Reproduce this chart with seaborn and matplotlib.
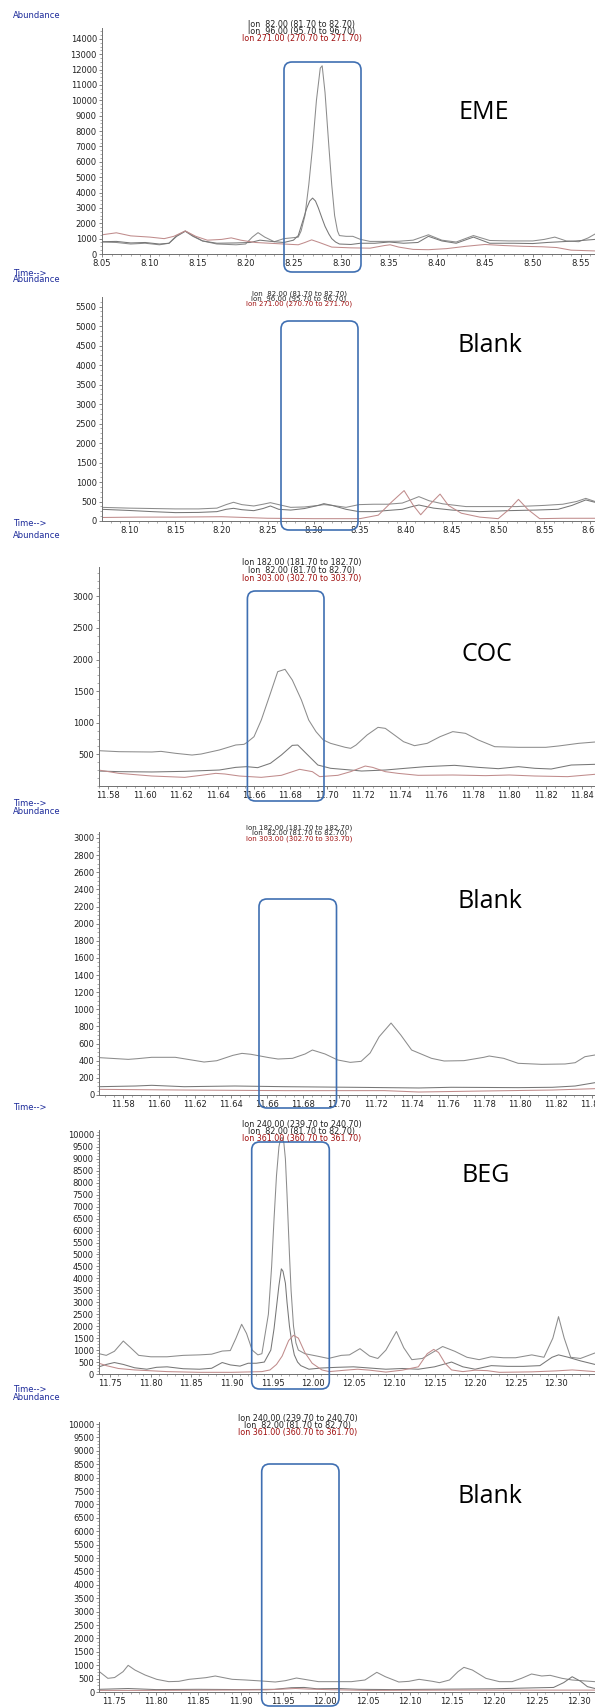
import matplotlib
matplotlib.use("Agg")
import matplotlib.pyplot as plt
import seaborn as sns
from matplotlib.patches import FancyBboxPatch
from matplotlib.ticker import MultipleLocator, AutoMinorLocator

sns.set_theme(style="white")
plt.rcParams['font.family'] = ['DejaVu Sans']

W, H = 595, 1707

# ---------------- EME ----------------
eme_t82 = [8.050, 8.065, 8.080, 8.095, 8.110, 8.120, 8.128, 8.137, 8.145, 8.155, 8.170, 8.190,
           8.200, 8.207, 8.213, 8.220, 8.230, 8.240, 8.248, 8.255, 8.258, 8.262, 8.266, 8.270,
           8.274, 8.278, 8.280, 8.283, 8.287, 8.290, 8.293, 8.296, 8.298, 8.305, 8.312, 8.320,
           8.330, 8.345, 8.360, 8.375, 8.391, 8.405, 8.420, 8.438, 8.455, 8.475, 8.500, 8.512,
           8.523, 8.535, 8.548, 8.558, 8.565]
eme_y82 = [780, 750, 650, 700, 600, 700, 1200, 1500, 1200, 850, 650, 600,
           650, 1100, 1390, 1100, 800, 1000, 1050, 1100, 1500, 2500, 4500, 7000,
           10000, 12100, 12250, 10500, 7000, 4500, 2500, 1500, 1200, 1150, 1150, 950,
           820, 820, 830, 900, 1250, 900, 780, 1200, 880, 850, 850, 950,
           1100, 850, 800, 1050, 1300]
eme_t96 = [8.050, 8.065, 8.080, 8.095, 8.110, 8.120, 8.128, 8.137, 8.145, 8.155, 8.170, 8.190,
           8.205, 8.215, 8.230, 8.240, 8.250, 8.255, 8.258, 8.261, 8.264, 8.267, 8.270, 8.273,
           8.276, 8.280, 8.283, 8.287, 8.290, 8.294, 8.298, 8.310, 8.320, 8.335, 8.350, 8.365,
           8.380, 8.391, 8.405, 8.420, 8.438, 8.455, 8.480, 8.500, 8.515, 8.530, 8.545, 8.565]
eme_y96 = [800, 820, 720, 750, 650, 700, 1150, 1480, 1150, 850, 700, 720,
           750, 900, 800, 750, 900, 1200, 1800, 2400, 3000, 3450, 3640, 3450,
           3000, 2300, 1800, 1300, 1000, 780, 650, 620, 700, 700, 780, 700,
           750, 1150, 850, 700, 1100, 700, 700, 680, 750, 800, 850, 950]
eme_t271 = [8.050, 8.065, 8.080, 8.100, 8.115, 8.125, 8.137, 8.148, 8.160, 8.175, 8.185, 8.195,
            8.210, 8.225, 8.240, 8.255, 8.262, 8.269, 8.277, 8.290, 8.310, 8.330, 8.345, 8.351,
            8.360, 8.375, 8.391, 8.410, 8.430, 8.450, 8.470, 8.490, 8.510, 8.525, 8.540, 8.565]
eme_y271 = [1250, 1380, 1180, 1100, 1000, 1150, 1500, 1150, 900, 950, 1050, 900,
            750, 700, 650, 600, 750, 920, 750, 450, 400, 380, 550, 600,
            450, 300, 280, 350, 500, 620, 550, 500, 470, 420, 250, 200]

# ---------------- EME blank ----------------
bl1_t82 = [8.070, 8.100, 8.125, 8.150, 8.175, 8.195, 8.205, 8.213, 8.222, 8.235, 8.245, 8.253,
           8.262, 8.275, 8.290, 8.305, 8.311, 8.320, 8.335, 8.349, 8.365, 8.380, 8.396, 8.405,
           8.414, 8.425, 8.440, 8.465, 8.490, 8.520, 8.550, 8.570, 8.585, 8.595, 8.605]
bl1_y82 = [350, 330, 320, 310, 310, 330, 420, 480, 420, 385, 430, 470,
           420, 350, 360, 400, 420, 400, 350, 420, 430, 430, 460, 540,
           625, 520, 440, 370, 370, 370, 400, 430, 500, 580, 500]
bl1_t96 = [8.070, 8.100, 8.125, 8.150, 8.175, 8.195, 8.205, 8.213, 8.222, 8.235, 8.245, 8.253,
           8.262, 8.275, 8.290, 8.305, 8.311, 8.320, 8.335, 8.349, 8.365, 8.380, 8.396, 8.405,
           8.414, 8.430, 8.450, 8.480, 8.510, 8.540, 8.565, 8.580, 8.595, 8.605]
bl1_y96 = [300, 270, 240, 215, 220, 240, 300, 325, 290, 265, 320, 385,
           300, 280, 320, 400, 445, 400, 300, 240, 240, 270, 300, 360,
           410, 330, 280, 240, 265, 280, 300, 400, 540, 480]
bl1_t271 = [8.070, 8.110, 8.150, 8.200, 8.250, 8.300, 8.350, 8.370, 8.385, 8.398, 8.408, 8.416,
            8.427, 8.437, 8.446, 8.460, 8.480, 8.500, 8.512, 8.522, 8.532, 8.545, 8.570, 8.605]
bl1_y271 = [90, 100, 100, 110, 70, 60, 60, 150, 500, 780, 400, 160,
            450, 690, 400, 200, 100, 60, 300, 555, 300, 60, 70, 70]

# ---------------- COC ----------------
coc_t182 = [11.5747, 11.586, 11.604, 11.609, 11.617, 11.626, 11.631, 11.641, 11.650, 11.6545,
            11.656, 11.660, 11.664, 11.669, 11.673, 11.677, 11.681, 11.686, 11.690, 11.694,
            11.698, 11.702, 11.710, 11.713, 11.716, 11.722, 11.728, 11.732, 11.737, 11.742,
            11.748, 11.755, 11.762, 11.769, 11.776, 11.783, 11.792, 11.805, 11.820, 11.827,
            11.838, 11.847]
coc_y182 = [559, 543, 538, 548, 517, 490, 506, 570, 649, 659,
            686, 780, 1044, 1466, 1809, 1846, 1677, 1361, 1044, 860,
            728, 675, 612, 596, 649, 807, 928, 912, 807, 701,
            638, 675, 780, 860, 833, 728, 622, 612, 612, 633,
            675, 696]
coc_t82 = [11.5747, 11.586, 11.604, 11.622, 11.641, 11.650, 11.656, 11.662, 11.669, 11.675,
           11.681, 11.684, 11.688, 11.695, 11.702, 11.713, 11.719, 11.732, 11.743, 11.754,
           11.770, 11.783, 11.794, 11.805, 11.814, 11.823, 11.834, 11.847]
coc_y82 = [237, 227, 222, 232, 253, 295, 306, 290, 359, 490,
           643, 648, 533, 332, 280, 253, 237, 253, 280, 306,
           327, 295, 274, 306, 280, 269, 332, 343]
coc_t303 = [11.5747, 11.586, 11.604, 11.622, 11.631, 11.639, 11.644, 11.652, 11.664, 11.675,
            11.685, 11.692, 11.696, 11.706, 11.713, 11.721, 11.725, 11.732, 11.739, 11.750,
            11.769, 11.787, 11.800, 11.814, 11.832, 11.847]
coc_y303 = [253, 200, 158, 137, 169, 200, 190, 158, 137, 169,
            264, 227, 148, 169, 227, 316, 295, 227, 200, 169,
            174, 164, 174, 158, 148, 185]

# ---------------- COC blank ----------------
bl2_t182 = [11.567, 11.583, 11.588, 11.596, 11.609, 11.616, 11.625, 11.632, 11.641, 11.646,
            11.651, 11.661, 11.666, 11.674, 11.681, 11.685, 11.692, 11.699, 11.706, 11.712,
            11.717, 11.722, 11.7286, 11.734, 11.740, 11.751, 11.758, 11.769, 11.780, 11.783,
            11.791, 11.799, 11.812, 11.825, 11.8306, 11.836, 11.8416]
bl2_y182 = [436, 416, 424, 440, 440, 416, 385, 400, 463, 486,
            475, 436, 420, 428, 479, 525, 479, 409, 381, 393,
            490, 680, 840, 700, 525, 428, 397, 401, 440, 455,
            428, 370, 358, 362, 377, 447, 467]
bl2_t82 = [11.567, 11.587, 11.596, 11.614, 11.642, 11.670, 11.707, 11.744, 11.762, 11.799,
           11.818, 11.8306, 11.8416]
bl2_y82 = [97, 105, 113, 97, 105, 97, 90, 82, 90, 86, 90, 105, 144]
bl2_t303 = [11.567, 11.614, 11.670, 11.725, 11.744, 11.781, 11.818, 11.8416]
bl2_y303 = [66, 58, 51, 51, 35, 47, 58, 74]

# ---------------- BEG ----------------
beg_t240 = [11.736, 11.745, 11.755, 11.766, 11.775, 11.785, 11.800, 11.820, 11.840, 11.860,
            11.875, 11.888, 11.898, 11.905, 11.912, 11.918, 11.925, 11.932, 11.937, 11.945,
            11.949, 11.952, 11.955, 11.958, 11.960, 11.962, 11.964, 11.966, 11.968, 11.971,
            11.973, 11.976, 11.979, 11.982, 11.990, 12.005, 12.019, 12.035, 12.045, 12.058,
            12.070, 12.080, 12.090, 12.103, 12.112, 12.122, 12.135, 12.150, 12.160, 12.175,
            12.190, 12.205, 12.220, 12.235, 12.250, 12.270, 12.285, 12.296, 12.303, 12.310,
            12.318, 12.330, 12.348]
beg_y240 = [850, 780, 950, 1380, 1100, 780, 720, 720, 780, 800,
            830, 960, 980, 1500, 2080, 1700, 1000, 800, 850, 2500,
            4500, 6500, 8300, 9500, 9850, 9900, 9700, 9000, 7500, 5000,
            3500, 2000, 1300, 1000, 850, 750, 650, 780, 800, 1060,
            750, 650, 1000, 1780, 1100, 600, 650, 950, 1150, 950,
            700, 600, 720, 680, 680, 800, 700, 1500, 2400, 1500,
            700, 650, 880]
beg_t82 = [11.736, 11.745, 11.755, 11.766, 11.780, 11.795, 11.807, 11.820, 11.840, 11.860,
           11.875, 11.888, 11.898, 11.910, 11.920, 11.930, 11.940, 11.948, 11.952, 11.955,
           11.958, 11.961, 11.963, 11.966, 11.968, 11.971, 11.974, 11.977, 11.981, 11.985,
           11.995, 12.010, 12.030, 12.050, 12.070, 12.090, 12.110, 12.130, 12.150, 12.171,
           12.185, 12.200, 12.220, 12.240, 12.260, 12.280, 12.295, 12.303, 12.315, 12.330,
           12.348]
beg_y82 = [300, 400, 480, 400, 260, 200, 280, 300, 220, 200,
           240, 480, 380, 330, 450, 450, 500, 1000, 1900, 2800,
           3700, 4400, 4300, 3800, 3000, 2000, 1300, 800, 500, 350,
           200, 250, 280, 300, 250, 200, 230, 200, 300, 500,
           300, 200, 350, 320, 320, 350, 700, 800, 700, 550,
           400]
beg_t361 = [11.736, 11.745, 11.760, 11.780, 11.820, 11.860, 11.900, 11.937, 11.947, 11.955,
            11.962, 11.970, 11.976, 11.982, 11.990, 11.999, 12.011, 12.020, 12.040, 12.055,
            12.070, 12.090, 12.110, 12.130, 12.141, 12.149, 12.155, 12.163, 12.171, 12.185,
            12.200, 12.215, 12.230, 12.270, 12.300, 12.320, 12.348]
beg_y361 = [450, 350, 230, 170, 100, 70, 70, 100, 170, 400,
            750, 1400, 1620, 1500, 900, 450, 170, 100, 160, 200,
            160, 80, 160, 300, 850, 1030, 900, 450, 170, 100,
            160, 140, 70, 90, 130, 170, 100]

# ---------------- BEG blank ----------------
bl3_t240 = [11.733, 11.743, 11.751, 11.761, 11.767, 11.775, 11.787, 11.8007, 11.815, 11.827,
            11.839, 11.851, 11.859, 11.870, 11.878, 11.890, 11.906, 11.925, 11.941, 11.953,
            11.966, 11.980, 11.992, 12.016, 12.031, 12.047, 12.061, 12.071, 12.087, 12.099,
            12.111, 12.127, 12.135, 12.147, 12.157, 12.164, 12.174, 12.190, 12.206, 12.221,
            12.232, 12.244, 12.256, 12.266, 12.280, 12.292, 12.308, 12.319]
bl3_y240 = [759, 510, 540, 759, 995, 820, 634, 473, 386, 398,
            473, 510, 535, 597, 547, 473, 448, 410, 373, 423,
            522, 448, 386, 386, 386, 448, 734, 572, 373, 398,
            473, 398, 348, 448, 759, 920, 820, 510, 386, 386,
            510, 672, 597, 622, 510, 448, 410, 386]
bl3_t82 = [11.733, 11.767, 11.800, 11.850, 11.900, 11.940, 11.960, 11.975, 11.990, 12.016,
           12.040, 12.080, 12.120, 12.160, 12.200, 12.240, 12.270, 12.282, 12.292, 12.302,
           12.310, 12.319]
bl3_y82 = [100, 130, 90, 100, 90, 100, 160, 170, 120, 130,
           100, 90, 100, 110, 120, 150, 170, 350, 570, 400,
           200, 130]
bl3_t361 = [11.733, 11.800, 11.870, 11.930, 11.965, 11.980, 12.000, 12.050, 12.150, 12.250, 12.319]
bl3_y361 = [60, 60, 70, 80, 130, 110, 90, 60, 70, 70, 70]

ion_eme = ["Ion  82.00 (81.70 to 82.70)", "Ion  96.00 (95.70 to 96.70)",
           "Ion 271.00 (270.70 to 271.70)"]
ion_coc = ["Ion 182.00 (181.70 to 182.70)", "Ion  82.00 (81.70 to 82.70)",
           "Ion 303.00 (302.70 to 303.70)"]
ion_beg = ["Ion 240.00 (239.70 to 240.70)", "Ion  82.00 (81.70 to 82.70)",
           "Ion 361.00 (360.70 to 361.70)"]
sample_names = ["EME", "Blank", "COC", "Blank", "BEG", "Blank"]

# panel layout in pixels
panels = [
    dict(left=102, top=28, bottom=254, xlim=(8.05, 8.565), ytop=14710, xstep=0.05, xminor=0.01,
         ystep=1000, y0=0,
         traces=[(eme_t82, eme_y82), (eme_t96, eme_y96), (eme_t271, eme_y271)], ions=ion_eme,
         title_x=302, title_y=(24, 31.5, 39), tsize=5.8,
         box=(284, 361, 62, 272), label_xy=(484, 119)),
    dict(left=102, top=297, bottom=521, xlim=(8.0704, 8.605), ytop=5744, xstep=0.05, xminor=0.01,
         ystep=500, y0=0,
         traces=[(bl1_t82, bl1_y82), (bl1_t96, bl1_y96), (bl1_t271, bl1_y271)], ions=ion_eme,
         title_x=299, title_y=(294.0, 298.8, 303.6), tsize=5.0,
         box=(281, 358, 321, 530), label_xy=(490, 351.7)),
    dict(left=99, top=567, bottom=786, xlim=(11.575, 11.847), ytop=3465, xstep=0.02, xminor=0.005,
         ystep=500, y0=500,
         traces=[(coc_t182, coc_y182), (coc_t82, coc_y82), (coc_t303, coc_y303)], ions=ion_coc,
         title_x=302, title_y=(562.7, 570.4, 578.2), tsize=5.8,
         box=(247.4, 324, 591, 801), label_xy=(487, 661)),
    dict(left=99.4, top=832, bottom=1095, xlim=(11.567, 11.8416), ytop=3070, xstep=0.02, xminor=0.005,
         ystep=200, y0=0,
         traces=[(bl2_t182, bl2_y182), (bl2_t82, bl2_y82), (bl2_t303, bl2_y303)], ions=ion_coc,
         title_x=299, title_y=(827.6, 833, 838.4), tsize=5.0,
         box=(259, 336.5, 899, 1108), label_xy=(490, 908)),
    dict(left=99, top=1130, bottom=1374, xlim=(11.736, 12.348), ytop=10209, xstep=0.05, xminor=0.01,
         ystep=500, y0=0,
         traces=[(beg_t240, beg_y240), (beg_t82, beg_y82), (beg_t361, beg_y361)], ions=ion_beg,
         title_x=302, title_y=(1125, 1131.7, 1138.3), tsize=5.8,
         box=(251.7, 329.3, 1142, 1389), label_xy=(486, 1181.7)),
    dict(left=99.4, top=1422, bottom=1692, xlim=(11.733, 12.319), ytop=10075, xstep=0.05, xminor=0.01,
         ystep=500, y0=0,
         traces=[(bl3_t240, bl3_y240), (bl3_t82, bl3_y82), (bl3_t361, bl3_y361)], ions=ion_beg,
         title_x=298, title_y=(1418.3, 1425.3, 1432.3), tsize=5.8,
         box=(261.7, 339, 1464, 1706), label_xy=(490, 1503)),
]

trace_colors = ["#8c8c8c", "#777777", "#c08c8c"]
title_colors = ["#222222", "#222222", "#a01010"]
blue = "#1c2a9a"

fig = plt.figure(figsize=(W / 100, H / 100), dpi=100)
fig.patch.set_facecolor("white")

for p in panels:
    ax = fig.add_axes([p["left"] / W, 1 - p["bottom"] / H,
                       (W - p["left"]) / W, (p["bottom"] - p["top"]) / H])
    ax.set_facecolor("white")
    for (t, y), c in zip(p["traces"], trace_colors):
        sns.lineplot(x=t, y=y, ax=ax, color=c, linewidth=0.75, estimator=None)
    ax.set_xlim(*p["xlim"])
    ax.set_ylim(0, p["ytop"])
    ax.xaxis.set_major_locator(MultipleLocator(p["xstep"]))
    ax.xaxis.set_minor_locator(MultipleLocator(p["xminor"]))
    ax.xaxis.set_major_formatter(matplotlib.ticker.FormatStrFormatter("%.2f"))
    yt = list(range(p["y0"], int(p["ytop"]) + 1, p["ystep"]))
    ax.set_yticks(yt)
    ax.set_yticklabels([str(v) for v in yt])
    ax.yaxis.set_minor_locator(AutoMinorLocator(4))
    for s in ["top", "right"]:
        ax.spines[s].set_visible(False)
    for s in ["left", "bottom"]:
        ax.spines[s].set_color("#707070")
        ax.spines[s].set_linewidth(0.7)
    ax.tick_params(axis="both", which="major", direction="out", length=2.5, width=0.6,
                   color="#707070", labelcolor="#222222", labelsize=6, pad=1.2)
    ax.tick_params(axis="both", which="minor", direction="out", length=1.3, width=0.5,
                   color="#8a8a8a")
    ax.tick_params(axis="x", which="both", bottom=True)
    ax.tick_params(axis="y", which="both", left=True)
    ax.set_xlabel("")
    ax.set_ylabel("")
    ax.grid(False)

# overlay in pixel coordinates for texts and boxes
ov = fig.add_axes([0, 0, 1, 1], zorder=10)
ov.set_xlim(0, W)
ov.set_ylim(H, 0)
ov.axis("off")
ov.patch.set_alpha(0)

for p, name in zip(panels, sample_names):
    for line, ty, tc in zip(p["ions"], p["title_y"], title_colors):
        ov.text(p["title_x"], ty, line, ha="center", va="center", fontsize=p["tsize"], color=tc)
    x0, x1, y0, y1 = p["box"]
    ov.add_patch(FancyBboxPatch((x0, y0), x1 - x0, y1 - y0,
                                boxstyle="round,pad=0,rounding_size=8",
                                fill=False, edgecolor="#3f6fb2", linewidth=1.2))
    ov.text(p["label_xy"][0], p["label_xy"][1], name, ha="center", va="baseline",
            fontsize=18, family=["Open Sans", "DejaVu Sans"], color="black")

# ChemStation style axis captions
for y in [16, 280, 535, 811, 1397]:
    ov.text(13, y, "Abundance", ha="left", va="center", fontsize=6, color=blue)
for y in [273, 524, 804, 1107, 1390]:
    ov.text(13, y, "Time-->", ha="left", va="center", fontsize=6, color=blue)

fig.savefig("out.png", dpi=100, facecolor="white")
